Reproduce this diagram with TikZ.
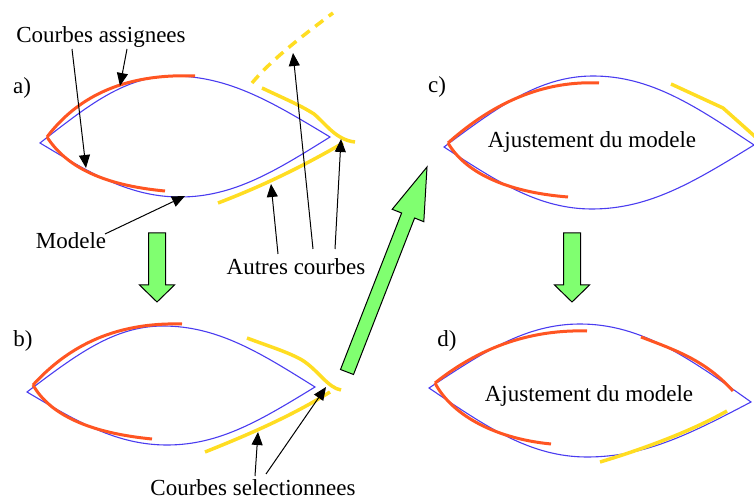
\documentclass[tikz,border=0pt]{standalone}
\usepackage{fontspec}
\setmainfont{Liberation Serif}
\usetikzlibrary{arrows.meta}
\definecolor{modblue}{HTML}{4A3CF0}
\definecolor{asgred}{HTML}{FF5522}
\definecolor{othyel}{HTML}{FFDD22}
\definecolor{blkgreen}{HTML}{80FF70}
\tikzset{
  lbl/.style={font=\fontsize{23}{27}\selectfont, inner sep=0pt},
  model/.style={draw=modblue, line width=1.1pt},
  assigned/.style={draw=asgred, line width=3pt},
  other/.style={draw=othyel, line width=3.5pt},
  ptr/.style={draw=black, line width=1pt, -{Triangle[length=13pt,width=11pt]}},
  blockarrow/.style={draw=black, line width=1pt, fill=blkgreen, line join=miter},
}
\begin{document}
\begin{tikzpicture}[x=1pt,y=-1pt]
\useasboundingbox (0,0) rectangle (754,502);

% ---------- panel a ----------
\draw[model] (40,143) .. controls (88,105.5) and (125,76) .. (173,76)
  .. controls (229.5,76) and (273.5,103) .. (330,137)
  .. controls (276,170.6) and (234,197) .. (180,197)
  .. controls (129.6,197) and (90.4,173.2) .. (40,143) -- cycle;
\draw[assigned] (47,137) .. controls (75,100) and (120,73) .. (195,76);
\draw[assigned] (47,137) .. controls (65,165) and (100,185) .. (165,191);
\draw[other, dash pattern=on 10pt off 7pt] (252,83) .. controls (268,64) and (290,45) .. (333,13);
\draw[other] (262,88) .. controls (285,99) and (300,105) .. (314,114)
  .. controls (326,124) and (336,140) .. (355,142);
\draw[other] (218,203) .. controls (260,187) and (300,168) .. (343,143);
\node[lbl] (la) at (22,88) {a)};

% ---------- panel b ----------
\draw[model] (27,392) .. controls (76,355) and (114,326) .. (163,326)
  .. controls (217.7,326) and (260.3,352.8) .. (315,387)
  .. controls (261.7,419.5) and (220.3,445) .. (167,445)
  .. controls (116.6,445) and (77.4,421.7) .. (27,392) -- cycle;
\draw[assigned] (33,385) .. controls (65,350) and (110,322) .. (182,324);
\draw[assigned] (33,385) .. controls (50,415) and (90,433) .. (152,439);
\draw[other] (247,338) .. controls (268,346) and (288,352) .. (302,360)
  .. controls (318,370) and (328,388) .. (341,390);
\draw[other] (205,452) .. controls (245,436) and (290,417) .. (330,392);
\node[lbl] (lb) at (23,341) {b)};

% ---------- panel c ----------
\draw[model] (444,147) .. controls (497.6,107.2) and (539.4,76) .. (593,76)
  .. controls (651,76) and (696,106.4) .. (754,145)
  .. controls (695.7,180.8) and (650.3,209) .. (592,209)
  .. controls (538.7,209) and (497.3,181.7) .. (444,147) -- cycle;
\draw[assigned] (448,143) .. controls (485,110) and (535,80) .. (599,83);
\draw[assigned] (448,143) .. controls (465,172) and (505,192) .. (568,197);
\draw[other, line join=round] (671,84) -- (723,108) -- (760,141);
\node[lbl] (lc) at (437,87) {c)};
\node[lbl] (tc) at (592,142) {Ajustement du modele};

% ---------- panel d ----------
\draw[model] (429,388) .. controls (483.4,352.2) and (525.6,324) .. (580,324)
  .. controls (641.6,324) and (689.4,358.3) .. (751,402)
  .. controls (692,432.8) and (646,457) .. (587,457)
  .. controls (530.1,457) and (485.9,426.6) .. (429,388) -- cycle;
\draw[assigned] (435,383) .. controls (470,355) and (520,329) .. (587,331);
\draw[assigned] (435,383) .. controls (450,412) and (490,438) .. (551,444);
\draw[assigned] (641,337) .. controls (675,350) and (705,360) .. (733,391);
\draw[other] (600,462) .. controls (640,450) and (690,432) .. (727,411);
\node[lbl] (ld) at (447,341) {d)};
\node[lbl] (td) at (589,396) {Ajustement du modele};

% ---------- labels and pointers ----------
\node[lbl] (ca) at (101,37) {Courbes assignees};
\node[lbl] (mo) at (71,241) {Modele};
\node[lbl] (ac) at (296,267) {Autres courbes};
\node[lbl] (cs) at (253,488) {Courbes selectionnees};

\coordinate (ca1) at (72,49);   \coordinate (ca1t) at (86,168);
\coordinate (ca2) at (127,49);  \coordinate (ca2t) at (120,86);
\coordinate (mo1) at (105,234); \coordinate (mo1t) at (185,196);
\coordinate (ac1) at (278,254); \coordinate (ac1t) at (271,184);
\coordinate (ac2) at (313,249); \coordinate (ac2t) at (293,53);
\coordinate (ac3) at (335,249); \coordinate (ac3t) at (341,139);
\coordinate (cs1) at (255,476); \coordinate (cs1t) at (258,432);
\coordinate (cs2) at (266,474); \coordinate (cs2t) at (326,387);

\draw[ptr] (ca1) -- (ca1t);
\draw[ptr] (ca2) -- (ca2t);
\draw[ptr] (mo1) -- (mo1t);
\draw[ptr] (ac1) -- (ac1t);
\draw[ptr] (ac2) -- (ac2t);
\draw[ptr] (ac3) -- (ac3t);
\draw[ptr] (cs1) -- (cs1t);
\draw[ptr] (cs2) -- (cs2t);

% ---------- block arrows ----------
\draw[blockarrow] (148.5,233) -- (165.5,233) -- (165.5,285) -- (174.5,285)
  -- (157,302) -- (139.5,285) -- (148.5,285) -- cycle;
\draw[blockarrow] (563.5,233) -- (580.5,233) -- (580.5,285) -- (589.5,285)
  -- (572,302) -- (554.5,285) -- (563.5,285) -- cycle;
\draw[blockarrow] (340.5,369.5) -- (353.5,374.5) -- (414.6,218.0) -- (423.8,221.7)
  -- (427,167) -- (392.2,209.3) -- (401.6,213.0) -- cycle;
\end{tikzpicture}
\end{document}
